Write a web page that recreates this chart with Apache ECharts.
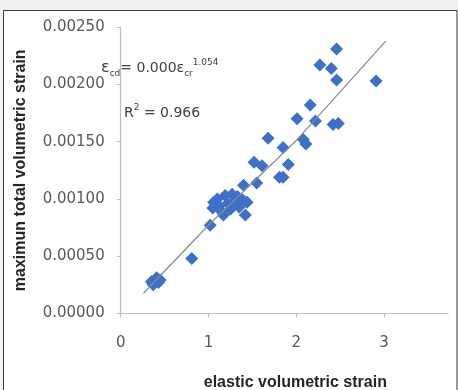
<!DOCTYPE html>
<html>
<head>
<meta charset="utf-8">
<script src="https://cdn.jsdelivr.net/npm/echarts@6/dist/echarts.min.js"></script>
<style>
  html, body { margin: 0; padding: 0; background: #f1f1ef; }
  #chart { width: 458px; height: 390px; }
</style>
</head>
<body>
<div id="chart"></div>
<script>
// Observed points: [elastic volumetric strain, maximum total volumetric strain]
const strainX = [0.35, 0.41, 0.45, 0.37, 0.43, 0.81, 1.02,
  1.05, 1.06, 1.10, 1.12, 1.15, 1.19, 1.17, 1.22, 1.27, 1.25, 1.30, 1.33, 1.35, 1.39, 1.44, 1.42,
  1.40, 1.55, 1.52, 1.61, 1.81, 1.85, 1.91, 1.85, 1.68,
  2.08, 2.11, 2.01, 2.22, 2.16, 2.42, 2.48, 2.27, 2.40, 2.46, 2.46, 2.91];
const strainY = [0.000275, 0.00031, 0.00029, 0.00025, 0.00027, 0.00048, 0.00077,
  0.00092, 0.00097, 0.00100, 0.00094, 0.00089, 0.00103, 0.00086, 0.00096, 0.00104, 0.00091, 0.00098, 0.00102, 0.00093, 0.00099, 0.00097, 0.00086,
  0.00112, 0.00114, 0.00132, 0.00129, 0.00119, 0.00119, 0.00130, 0.00145, 0.00153,
  0.00152, 0.00148, 0.00170, 0.00168, 0.00182, 0.00165, 0.00166, 0.00217, 0.00214, 0.00231, 0.00204, 0.00203];
// Trend line
const trendX = [0.26, 1.0, 2.0, 3.02];
const trendY = [0.000175, 0.00077, 0.00151, 0.00238];
// Tick labels
const xTicks = [0, 1, 2, 3];
const yTicks = [0, 0.0005, 0.001, 0.0015, 0.002, 0.0025];

const scatterData = strainX.map((x, i) => [x, strainY[i]]);
const trendData = trendX.map((x, i) => [x, trendY[i]]);

const chart = echarts.init(document.getElementById('chart'), null, { renderer: 'canvas' });
const labelFont = 'DejaVu Sans';
chart.setOption({
  animation: false,
  backgroundColor: 'transparent',
  graphic: [
    { type: 'rect', z: -10, shape: { x: 3.5, y: 10.5, width: 453.5, height: 400 },
      style: { fill: '#ffffff', stroke: '#3a3a3a', lineWidth: 1 } },
    { type: 'text', z: 10, x: 101, y: 68,
      style: {
        text: '{e|ε}{sb|cd}{m|= 0.000ε}{sb|cr}{sp|1.054}',
        verticalAlign: 'middle',
        rich: {
          e: { fontFamily: labelFont, fontSize: 16, lineHeight: 20, verticalAlign: 'middle', fill: '#404040' },
          m: { fontFamily: labelFont, fontSize: 14, lineHeight: 20, verticalAlign: 'middle', fill: '#404040' },
          sb: { fontFamily: labelFont, fontSize: 9, lineHeight: 10, verticalAlign: 'bottom', fill: '#404040' },
          sp: { fontFamily: labelFont, fontSize: 9, lineHeight: 10, verticalAlign: 'top', fill: '#404040' }
        }
      } },
    { type: 'text', z: 10, x: 124, y: 113,
      style: {
        text: '{m|R}{sp|2}{m| = 0.966}',
        verticalAlign: 'middle',
        rich: {
          m: { fontFamily: labelFont, fontSize: 14, lineHeight: 20, verticalAlign: 'middle', fill: '#404040' },
          sp: { fontFamily: labelFont, fontSize: 9, lineHeight: 12, verticalAlign: 'top', fill: '#404040' }
        }
      } }
  ],
  grid: { left: 120.7, right: 10, top: 27.3, bottom: 76.7, containLabel: false, outerBoundsMode: 'none' },
  xAxis: {
    type: 'value', min: 0, max: 3.73,
    name: 'elastic volumetric strain', nameLocation: 'middle', nameGap: 61,
    nameTextStyle: { fontFamily: 'Liberation Sans', fontWeight: 'bold', fontSize: 16, color: '#262626', padding: [0, 0, 0, 22] },
    axisLine: { lineStyle: { color: '#bdbdbd', width: 1.2 } },
    axisTick: { show: true, length: 4, customValues: xTicks, lineStyle: { color: '#bdbdbd' } },
    axisLabel: { customValues: xTicks, margin: 22, fontFamily: labelFont, fontSize: 15, color: '#595959', formatter: v => String(v) },
    splitLine: { show: false }
  },
  yAxis: {
    type: 'value', min: 0, max: 0.0025, interval: 0.0005,
    name: 'maximun total volumetric strain', nameLocation: 'middle', nameGap: 92,
    nameTextStyle: { fontFamily: 'Liberation Sans', fontWeight: 'bold', fontSize: 16, color: '#262626' },
    axisLine: { show: true, lineStyle: { color: '#bdbdbd', width: 1.2 } },
    axisTick: { show: true, length: 4, customValues: yTicks, lineStyle: { color: '#bdbdbd' } },
    axisLabel: { customValues: yTicks, margin: 16, fontFamily: labelFont, fontSize: 15, color: '#595959', formatter: v => v.toFixed(5) },
    splitLine: { show: false }
  },
  series: [
    { type: 'scatter', data: scatterData, symbol: 'diamond', symbolSize: 13, z: 2,
      itemStyle: { color: '#3d70c8', opacity: 1 } },
    { type: 'line', data: trendData, showSymbol: false, symbol: 'none', z: 3, smooth: false,
      lineStyle: { color: '#8a8a8a', width: 1.2 } }
  ]
});
</script>
</body>
</html>
